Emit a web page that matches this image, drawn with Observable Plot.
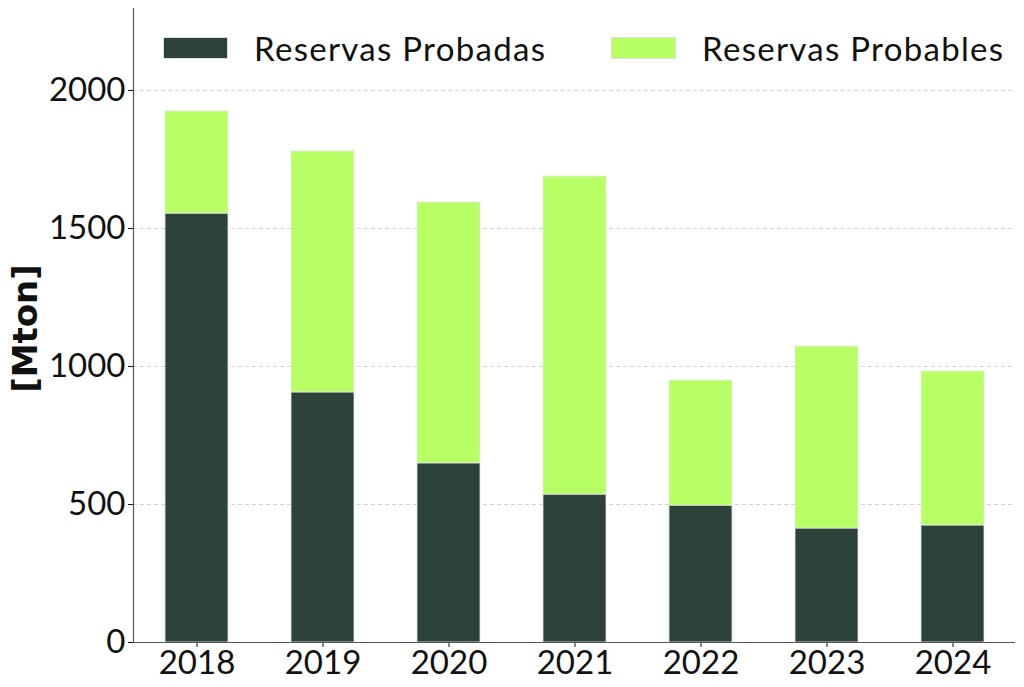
<!DOCTYPE html>
<html>
<head>
<meta charset="utf-8">
<script src="https://cdn.jsdelivr.net/npm/d3@7"></script>
<script src="https://cdn.jsdelivr.net/npm/@observablehq/plot@0.6"></script>
<style>
  html, body { margin: 0; padding: 0; background: #fff; }
  #wrap { position: relative; width: 1024px; height: 687px; font-family: Lato, "Noto Sans", sans-serif; }
  .leg { position: absolute; display: flex; align-items: center; font-size: 33px; color: #111; letter-spacing: 1.3px; }
  .sw { width: 65px; height: 22px; margin-right: 26px; box-sizing: border-box; border: 1px solid #ddd; }
</style>
</head>
<body>
<div id="wrap"></div>
<script>
const years = ["2018", "2019", "2020", "2021", "2022", "2023", "2024"];
const probadas = [1554, 906, 649, 536, 496, 413, 424];
const totals = [1924, 1779, 1594, 1688, 949, 1072, 982];
const probables = totals.map((t, i) => t - probadas[i]);
const seriesNames = ["Reservas Probadas", "Reservas Probables"];
const seriesColors = ["#2d4339", "#b7ff64"];
const yTicks = [0, 500, 1000, 1500, 2000];

const data = [];
years.forEach((y, i) => {
  data.push({year: y, serie: seriesNames[0], value: probadas[i]});
  data.push({year: y, serie: seriesNames[1], value: probables[i]});
});

const chart = Plot.plot({
  width: 1024,
  height: 687,
  marginLeft: 133,
  marginRight: 9,
  marginTop: 8,
  marginBottom: 45,
  style: {fontFamily: "Lato, 'Noto Sans', sans-serif", fontSize: "33px", color: "#111", background: "#fff"},
  x: {domain: years, paddingInner: 0.5, paddingOuter: 0.25, label: null},
  y: {domain: [0, 2297], label: null},
  color: {domain: seriesNames, range: seriesColors},
  marks: [
    Plot.ruleY(yTicks.filter(d => d > 0), {stroke: "#c8c8c8", strokeWidth: 0.8, strokeDasharray: "4,3"}),
    Plot.barY(data, {x: "year", y: "value", fill: "serie", stroke: "#e6e6e6", strokeWidth: 0.8}),
    Plot.axisY({ticks: yTicks, tickFormat: d => String(d), tickSize: 5, tickPadding: 3, fontSize: 33, label: null}),
    Plot.axisX({tickSize: 5, tickPadding: 3, fontSize: 33, label: null}),
    Plot.frame({anchor: "left", stroke: "#555", strokeWidth: 1.2}),
    Plot.ruleY([0], {stroke: "#555", strokeWidth: 1.2}),
    Plot.text(["[Mton]"], {frameAnchor: "left", dx: -107, dy: 3, rotate: -90, textAnchor: "middle", fontSize: 34, fontWeight: "bold", fontFamily: "'DejaVu Sans', sans-serif", fill: "#111", text: d => d})
  ]
});

const wrap = document.getElementById("wrap");
wrap.appendChild(chart);

const legPos = [{x: 163, y: 48}, {x: 611, y: 48}];
seriesNames.forEach((name, i) => {
  const el = document.createElement("div");
  el.className = "leg";
  el.style.left = legPos[i].x + "px";
  el.style.top = (legPos[i].y - 20) + "px";
  el.style.height = "40px";
  const sw = document.createElement("div");
  sw.className = "sw";
  sw.style.background = seriesColors[i];
  const tx = document.createElement("span");
  tx.textContent = name;
  el.appendChild(sw);
  el.appendChild(tx);
  wrap.appendChild(el);
});
</script>
</body>
</html>
